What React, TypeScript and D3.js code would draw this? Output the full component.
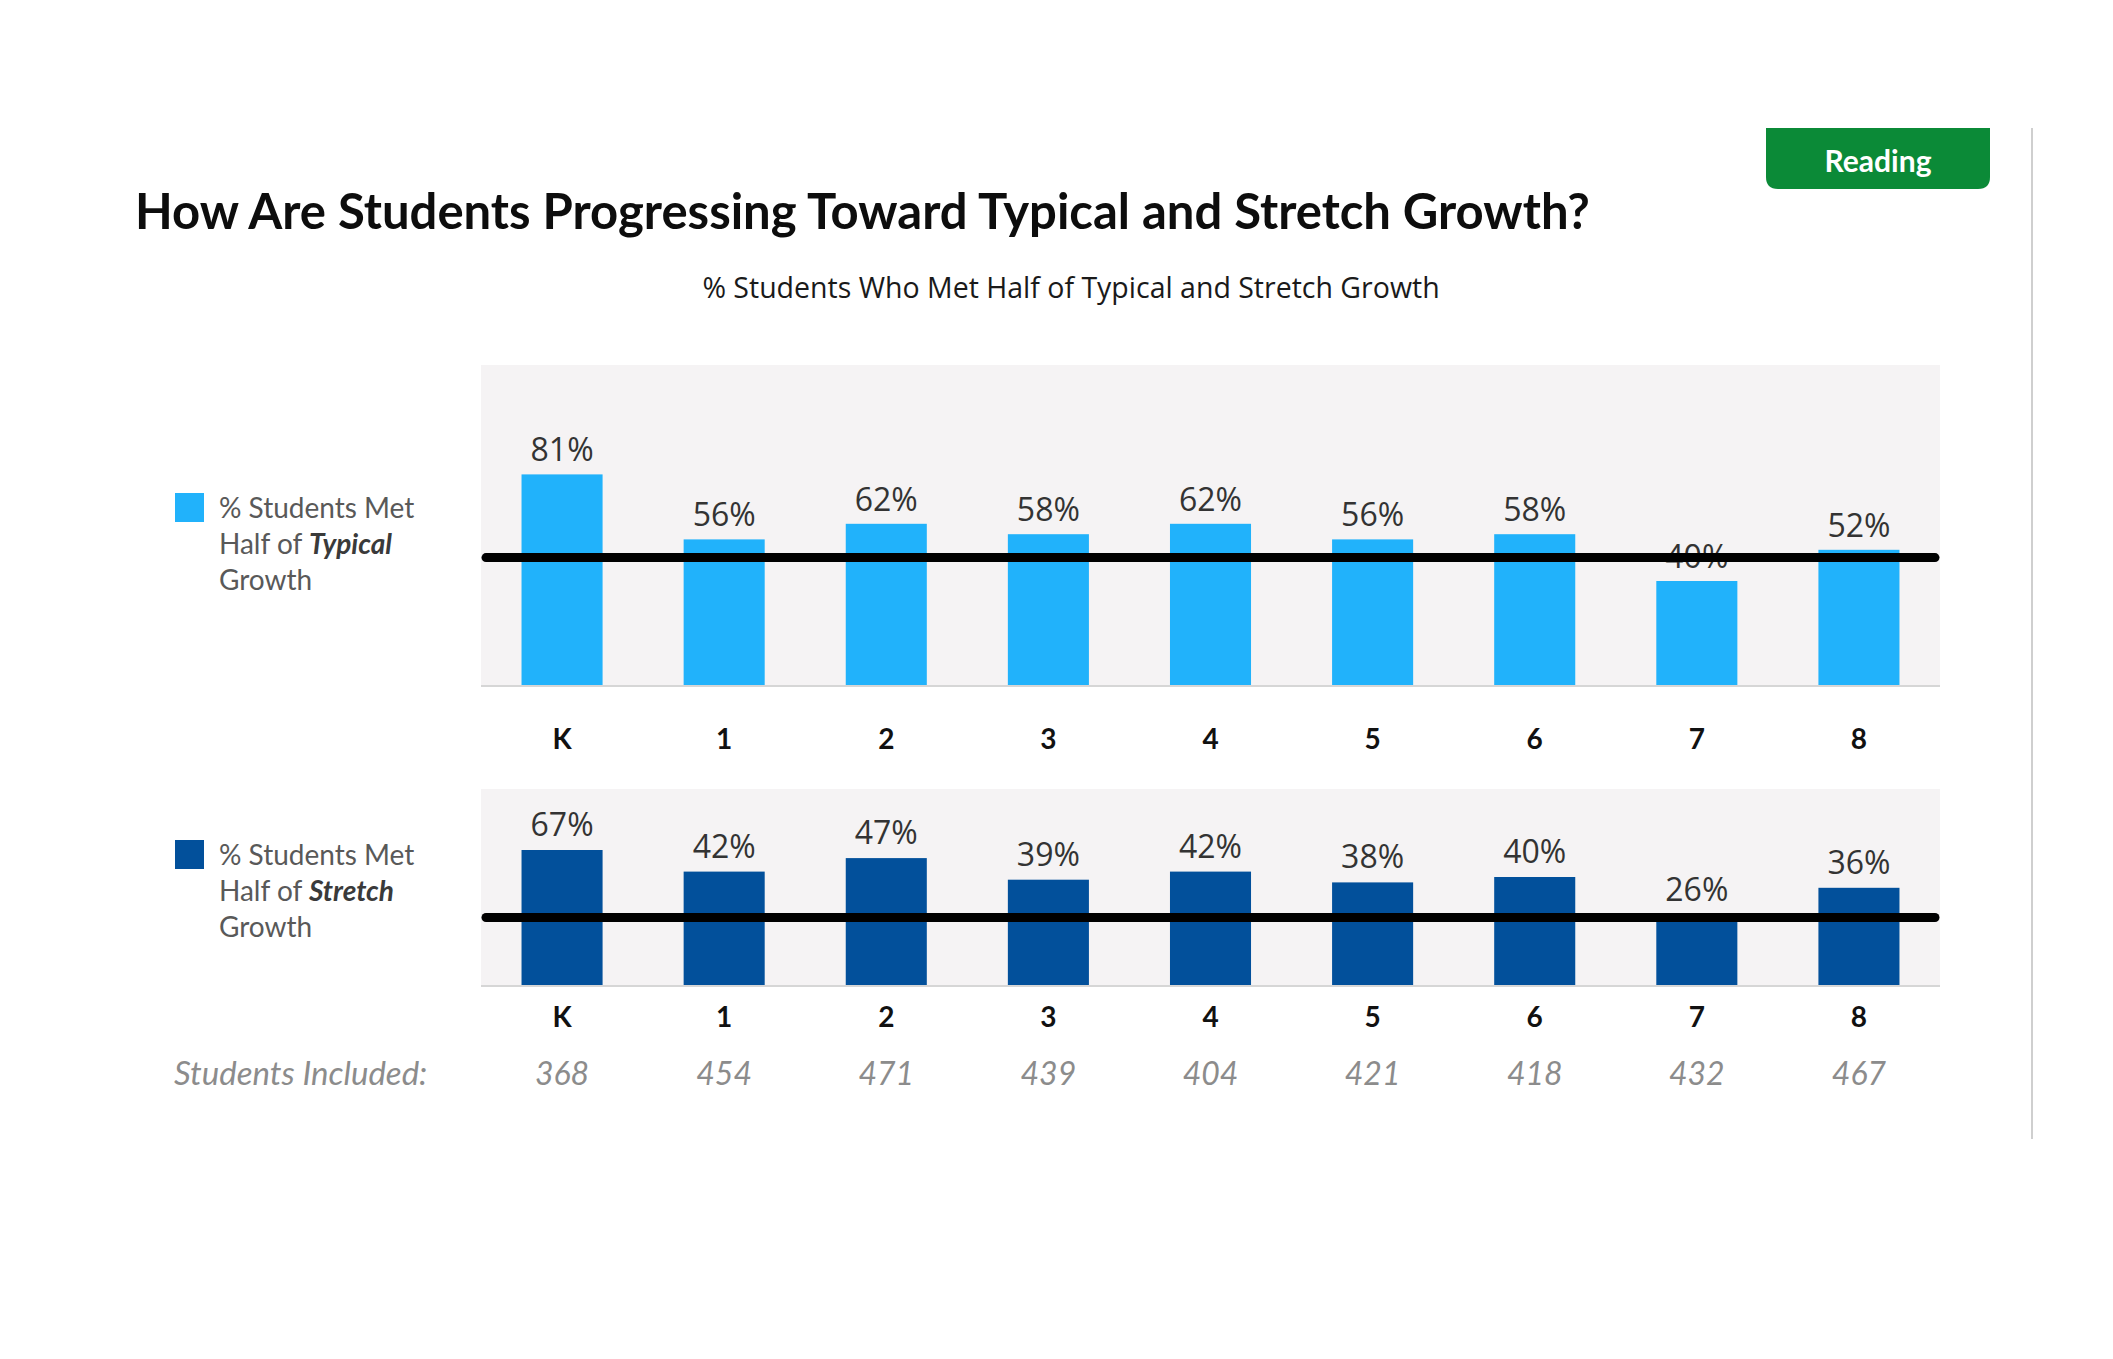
import React from "react";
import * as d3 from "d3";

const grades = ["K", "1", "2", "3", "4", "5", "6", "7", "8"];
const typicalPct = [81, 56, 62, 58, 62, 56, 58, 40, 52];
const stretchPct = [67, 42, 47, 39, 42, 38, 40, 26, 36];
const studentsIncluded = [368, 454, 471, 439, 404, 421, 418, 432, 467];
const typicalTarget = 49;
const stretchTarget = 25;

const W = 2113;
const H = 1359;
const LIGHT = "#21b2fb";
const DARK = "#02509b";
const PANEL = "#f5f3f4";

export default function App() {
  const x = d3
    .scaleBand<string>()
    .domain(grades)
    .range([481, 1940])
    .paddingInner(0.5)
    .paddingOuter(0.25);
  const yTop = d3.scaleLinear().domain([0, 100]).range([685, 425]);
  const yBot = d3.scaleLinear().domain([0, 50]).range([985, 850]).clamp(true);
  const bw = x.bandwidth();
  const cx = (g: string) => (x(g) as number) + bw / 2;

  const valueFont = { fontFamily: "'Open Sans', sans-serif", fontSize: 32, fill: "#333333" } as const;
  const catFont = { fontFamily: "Lato, sans-serif", fontSize: 28, fontWeight: 700, fill: "#111111" } as const;
  const legendFont = { fontFamily: "Lato, sans-serif", fontSize: 28, fill: "#595959" } as const;

  const legend = (y0: number, color: string, word: string) => (
    <g>
      <rect x={175} y={y0} width={29} height={29} fill={color} />
      <text x={219} y={y0 + 25} {...legendFont}>% Students Met</text>
      <text x={219} y={y0 + 61} {...legendFont}>
        Half of <tspan fontWeight={700} fontStyle="italic" fill="#3a3a3a">{word}</tspan>
      </text>
      <text x={219} y={y0 + 97} {...legendFont}>Growth</text>
    </g>
  );

  return (
    <svg
      width={W}
      height={H}
      style={{ position: "absolute", left: 0, top: 0, display: "block", background: "#ffffff" }}
    >
      {/* Reading tag */}
      <path
        d="M1766,128 L1990,128 L1990,177 Q1990,189 1978,189 L1778,189 Q1766,189 1766,177 Z"
        fill="#0b8a37"
      />
      <text
        x={1878}
        y={172}
        textAnchor="middle"
        fontFamily="Lato, sans-serif"
        fontWeight={700}
        fontSize={30}
        fill="#ffffff"
      >
        Reading
      </text>
      <line x1={2032} y1={128} x2={2032} y2={1139} stroke="#cfcfcf" strokeWidth={2} />

      {/* Title */}
      <text x={135} y={229} fontFamily="Lato, sans-serif" fontWeight={700} fontSize={49} fill="#0d0d0d">
        How Are Students Progressing Toward Typical and Stretch Growth?
      </text>
      <text
        x={1071}
        y={298}
        textAnchor="middle"
        fontFamily="'Open Sans', sans-serif"
        fontSize={28.5}
        fill="#1a1a1a"
      >
        % Students Who Met Half of Typical and Stretch Growth
      </text>

      {/* Top panel */}
      <rect x={481} y={365} width={1459} height={321} fill={PANEL} />
      <line x1={481} x2={1940} y1={686} y2={686} stroke="#d6d6d6" strokeWidth={2} />
      {grades.map((g, i) => (
        <g key={"t" + g}>
          <rect x={x(g)} y={yTop(typicalPct[i])} width={bw} height={yTop(0) - yTop(typicalPct[i])} fill={LIGHT} />
          <text x={cx(g)} y={yTop(typicalPct[i]) - 13} textAnchor="middle" {...valueFont}>
            {typicalPct[i]}%
          </text>
          <text x={cx(g)} y={749} textAnchor="middle" {...catFont}>
            {g}
          </text>
        </g>
      ))}
      <line
        x1={486}
        x2={1935}
        y1={yTop(typicalTarget)}
        y2={yTop(typicalTarget)}
        stroke="#000000"
        strokeWidth={9}
        strokeLinecap="round"
      />
      {legend(493, LIGHT, "Typical")}

      {/* Bottom panel */}
      <rect x={481} y={789} width={1459} height={197} fill={PANEL} />
      <line x1={481} x2={1940} y1={986} y2={986} stroke="#d6d6d6" strokeWidth={2} />
      {grades.map((g, i) => (
        <g key={"b" + g}>
          <rect x={x(g)} y={yBot(stretchPct[i])} width={bw} height={yBot(0) - yBot(stretchPct[i])} fill={DARK} />
          <text x={cx(g)} y={yBot(stretchPct[i]) - 14} textAnchor="middle" {...valueFont}>
            {stretchPct[i]}%
          </text>
          <text x={cx(g)} y={1027} textAnchor="middle" {...catFont}>
            {g}
          </text>
          <text
            x={cx(g)}
            y={1085}
            textAnchor="middle"
            fontFamily="Lato, sans-serif"
            fontStyle="italic"
            fontSize={32}
            fill="#8c8c8c"
          >
            {studentsIncluded[i]}
          </text>
        </g>
      ))}
      <line
        x1={486}
        x2={1935}
        y1={yBot(stretchTarget)}
        y2={yBot(stretchTarget)}
        stroke="#000000"
        strokeWidth={9}
        strokeLinecap="round"
      />
      {legend(840, DARK, "Stretch")}

      <text x={174} y={1085} fontFamily="Lato, sans-serif" fontStyle="italic" fontSize={33} fill="#8c8c8c">
        Students Included:
      </text>
    </svg>
  );
}
